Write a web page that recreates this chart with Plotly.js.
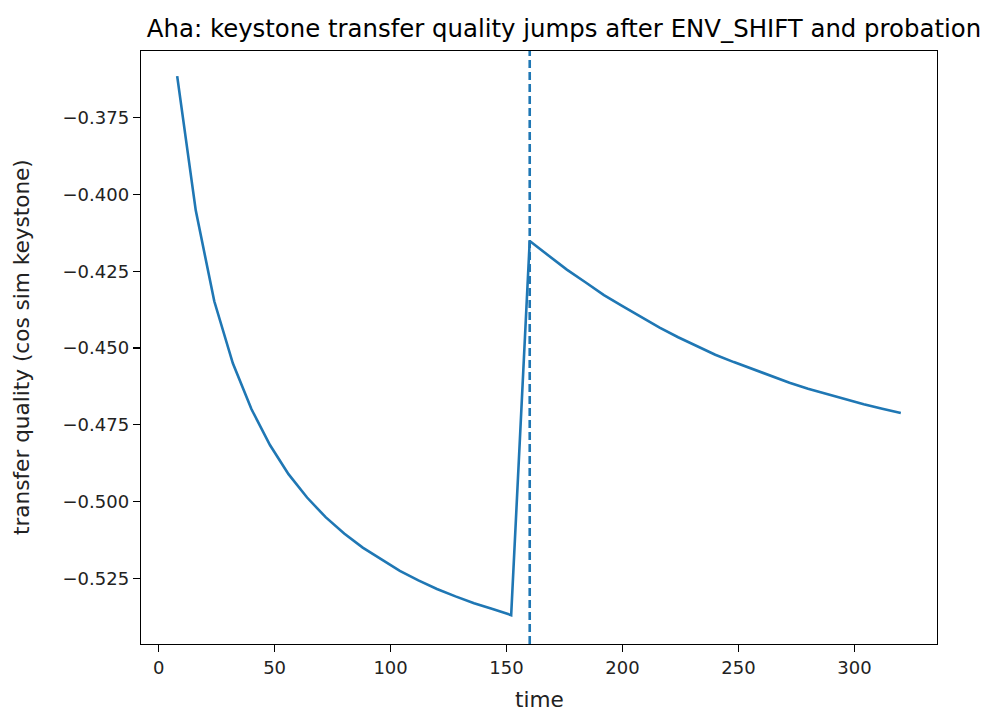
<!DOCTYPE html>
<html>
<head>
<meta charset="utf-8">
<script src="https://cdn.plot.ly/plotly-3.0.1.min.js"></script>
<style>html,body{margin:0;padding:0;background:#fff;}#chart{width:998px;height:711px;}</style>
</head>
<body>
<div id="chart"></div>
<script>
// time steps
const timeSteps = [8,16,24,32,40,48,56,64,72,80,88,96,104,112,120,128,136,144,152,
                   160,168,176,184,192,200,208,216,224,232,240,248,256,264,272,280,288,296,304,312,320];
// transfer quality (cos sim keystone)
const quality = [-0.3615,-0.4052,-0.4348,-0.4550,-0.4699,-0.4816,-0.4911,-0.4987,-0.5051,-0.5104,
                 -0.5150,-0.5189,-0.5226,-0.5257,-0.5285,-0.5309,-0.5331,-0.5350,-0.5370,
                 -0.4152,-0.4200,-0.4245,-0.4286,-0.4328,-0.4364,-0.4400,-0.4434,-0.4465,-0.4494,
                 -0.4522,-0.4546,-0.4569,-0.4592,-0.4613,-0.4633,-0.4650,-0.4667,-0.4683,-0.4698,-0.4712];
// ENV_SHIFT marker
const envShiftTime = 160;
// ticks
const xTickVals = [0,50,100,150,200,250,300];
const yTickVals = [-0.525,-0.500,-0.475,-0.450,-0.425,-0.400,-0.375];
const yTickText = ["\u22120.525","\u22120.500","\u22120.475","\u22120.450","\u22120.425","\u22120.400","\u22120.375"];
// texts
const titleText = 'Aha: keystone transfer quality jumps after ENV_SHIFT and probation';
const xLabel = 'time';
const yLabel = 'transfer quality (cos sim keystone)';

const blue = '#1f77b4';
const font = 'DejaVu Sans, sans-serif';

const traces = [{
  x: timeSteps, y: quality, type: 'scatter', mode: 'lines',
  line: {color: blue, width: 2.6}, hoverinfo: 'skip', showlegend: false
}];

const L = 141, R = 937, T = 51, B = 644;
const W = R - L, H = B - T;

const layout = {
  width: 998, height: 711,
  margin: {l: L, r: 998 - R, t: T, b: 711 - B, pad: 0},
  paper_bgcolor: '#fff', plot_bgcolor: '#fff',
  font: {family: font, size: 18, color: '#000'},
  title: {text: titleText,
          font: {family: font, size: 24.4, color: '#000'},
          x: 564/998, xanchor: 'center', xref: 'container',
          y: 1 - 28/711, yanchor: 'middle', yref: 'container'},
  xaxis: {
    range: [-7.6, 335.6], tickvals: xTickVals, ticks: 'outside', ticklen: 7, tickwidth: 1.2,
    tickcolor: '#000', showline: true, linecolor: '#000', linewidth: 1.3, mirror: true,
    showgrid: false, zeroline: false, automargin: false,
    tickfont: {family: font, size: 18, color: '#222'}
  },
  yaxis: {
    range: [-0.5464, -0.3533], tickvals: yTickVals, ticktext: yTickText, ticks: 'outside',
    ticklen: 7, tickwidth: 1.2, tickcolor: '#000', showline: true, linecolor: '#000',
    linewidth: 1.3, mirror: true, showgrid: false, zeroline: false, automargin: false,
    tickfont: {family: font, size: 18, color: '#222'}
  },
  annotations: [
    {text: xLabel, xref: 'paper', yref: 'paper', x: (539 - L) / W, y: (B - 700) / H,
     xanchor: 'center', yanchor: 'middle', showarrow: false,
     font: {family: font, size: 21.6, color: '#222'}},
    {text: yLabel, xref: 'paper', yref: 'paper', x: (21 - L) / W, y: (B - 347) / H,
     xanchor: 'center', yanchor: 'middle', textangle: -90, showarrow: false,
     font: {family: font, size: 21.6, color: '#222'}}
  ],
  shapes: [{
    type: 'line', xref: 'x', yref: 'paper', x0: envShiftTime, x1: envShiftTime, y0: 0, y1: 1,
    line: {color: blue, width: 2.6, dash: '8px,4px'}
  }]
};

Plotly.newPlot('chart', traces, layout, {displayModeBar: false, staticPlot: true});
</script>
</body>
</html>
